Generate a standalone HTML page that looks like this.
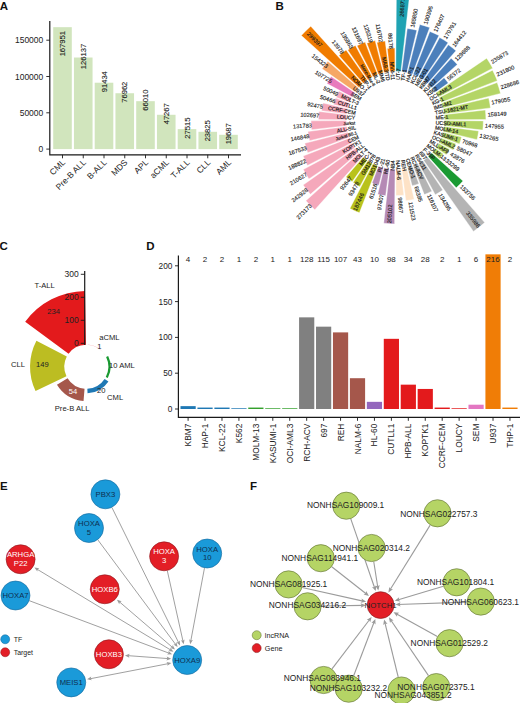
<!DOCTYPE html>
<html><head><meta charset="utf-8"><title>Figure</title>
<style>
html,body{margin:0;padding:0;background:#fff;}
svg{display:block;font-family:"Liberation Sans", sans-serif;}
</style></head><body>
<svg width="520" height="703" viewBox="0 0 520 703">
<rect width="520" height="703" fill="#fff"/>
<g id="A">
<text x="-0.3" y="9.8" font-size="11.5" font-weight="bold" fill="#111">A</text>
<rect x="53.2" y="27.17" width="18.6" height="121.93" fill="#d1e5bd"/>
<rect x="73.95" y="57.52" width="18.6" height="91.58" fill="#d1e5bd"/>
<rect x="94.7" y="82.72" width="18.6" height="66.38" fill="#d1e5bd"/>
<rect x="115.45" y="93.23" width="18.6" height="55.87" fill="#d1e5bd"/>
<rect x="136.2" y="101.18" width="18.6" height="47.92" fill="#d1e5bd"/>
<rect x="156.95" y="114.78" width="18.6" height="34.32" fill="#d1e5bd"/>
<rect x="177.7" y="129.12" width="18.6" height="19.98" fill="#d1e5bd"/>
<rect x="198.45" y="131.8" width="18.6" height="17.3" fill="#d1e5bd"/>
<rect x="219.2" y="134.81" width="18.6" height="14.29" fill="#d1e5bd"/>
<path d="M49.8 21 V154.8 H241" fill="none" stroke="#1a1a1a" stroke-width="1.2"/>
<line x1="46.3" x2="49.8" y1="149.1" y2="149.1" stroke="#1a1a1a" stroke-width="0.9"/>
<text x="43.3" y="152.1" font-size="8.5" text-anchor="end" fill="#222">0</text>
<line x1="46.3" x2="49.8" y1="112.8" y2="112.8" stroke="#1a1a1a" stroke-width="0.9"/>
<text x="43.3" y="115.8" font-size="8.5" text-anchor="end" fill="#222">50000</text>
<line x1="46.3" x2="49.8" y1="76.5" y2="76.5" stroke="#1a1a1a" stroke-width="0.9"/>
<text x="43.3" y="79.5" font-size="8.5" text-anchor="end" fill="#222">100000</text>
<line x1="46.3" x2="49.8" y1="40.2" y2="40.2" stroke="#1a1a1a" stroke-width="0.9"/>
<text x="43.3" y="43.2" font-size="8.5" text-anchor="end" fill="#222">150000</text>
<line x1="62.5" x2="62.5" y1="154.8" y2="158.3" stroke="#1a1a1a" stroke-width="0.9"/>
<text transform="translate(65.8 163) rotate(-45)" font-size="8.5" text-anchor="end" fill="#222">CML</text>
<text transform="translate(65.1 43.7) rotate(-90)" font-size="7.6" text-anchor="middle" fill="#1a1a1a" stroke="#1a1a1a" stroke-width="0.1">167951</text>
<line x1="83.25" x2="83.25" y1="154.8" y2="158.3" stroke="#1a1a1a" stroke-width="0.9"/>
<text transform="translate(86.55 163) rotate(-45)" font-size="8.5" text-anchor="end" fill="#222">Pre-B ALL</text>
<text transform="translate(85.85 56.52) rotate(-90)" font-size="7.6" text-anchor="middle" fill="#1a1a1a" stroke="#1a1a1a" stroke-width="0.1">126137</text>
<line x1="104" x2="104" y1="154.8" y2="158.3" stroke="#1a1a1a" stroke-width="0.9"/>
<text transform="translate(107.3 163) rotate(-45)" font-size="8.5" text-anchor="end" fill="#222">B-ALL</text>
<text transform="translate(106.6 81.72) rotate(-90)" font-size="7.6" text-anchor="middle" fill="#1a1a1a" stroke="#1a1a1a" stroke-width="0.1">91434</text>
<line x1="124.75" x2="124.75" y1="154.8" y2="158.3" stroke="#1a1a1a" stroke-width="0.9"/>
<text transform="translate(128.05 163) rotate(-45)" font-size="8.5" text-anchor="end" fill="#222">MDS</text>
<text transform="translate(127.35 92.23) rotate(-90)" font-size="7.6" text-anchor="middle" fill="#1a1a1a" stroke="#1a1a1a" stroke-width="0.1">76962</text>
<line x1="145.5" x2="145.5" y1="154.8" y2="158.3" stroke="#1a1a1a" stroke-width="0.9"/>
<text transform="translate(148.8 163) rotate(-45)" font-size="8.5" text-anchor="end" fill="#222">APL</text>
<text transform="translate(148.1 100.18) rotate(-90)" font-size="7.6" text-anchor="middle" fill="#1a1a1a" stroke="#1a1a1a" stroke-width="0.1">66010</text>
<line x1="166.25" x2="166.25" y1="154.8" y2="158.3" stroke="#1a1a1a" stroke-width="0.9"/>
<text transform="translate(169.55 163) rotate(-45)" font-size="8.5" text-anchor="end" fill="#222">aCML</text>
<text transform="translate(168.85 113.78) rotate(-90)" font-size="7.6" text-anchor="middle" fill="#1a1a1a" stroke="#1a1a1a" stroke-width="0.1">47267</text>
<line x1="187" x2="187" y1="154.8" y2="158.3" stroke="#1a1a1a" stroke-width="0.9"/>
<text transform="translate(190.3 163) rotate(-45)" font-size="8.5" text-anchor="end" fill="#222">T-ALL</text>
<text transform="translate(189.6 128.12) rotate(-90)" font-size="7.6" text-anchor="middle" fill="#1a1a1a" stroke="#1a1a1a" stroke-width="0.1">27515</text>
<line x1="207.75" x2="207.75" y1="154.8" y2="158.3" stroke="#1a1a1a" stroke-width="0.9"/>
<text transform="translate(211.05 163) rotate(-45)" font-size="8.5" text-anchor="end" fill="#222">CLL</text>
<text transform="translate(210.35 130.8) rotate(-90)" font-size="7.6" text-anchor="middle" fill="#1a1a1a" stroke="#1a1a1a" stroke-width="0.1">23825</text>
<line x1="228.5" x2="228.5" y1="154.8" y2="158.3" stroke="#1a1a1a" stroke-width="0.9"/>
<text transform="translate(231.8 163) rotate(-45)" font-size="8.5" text-anchor="end" fill="#222">AML</text>
<text transform="translate(231.1 133.81) rotate(-90)" font-size="7.6" text-anchor="middle" fill="#1a1a1a" stroke="#1a1a1a" stroke-width="0.1">19687</text>
</g>
<g id="B">
<text x="275.6" y="9.9" font-size="11.5" font-weight="bold" fill="#111">B</text>
<path d="M395.78 71.2 L396.38 -4 A124.2 124.2 0 0 1 409.4 -3.21 L400.92 71.51 A49 49 0 0 0 395.78 71.2Z" fill="#1fa3b3" stroke="#fff" stroke-width="0.4" stroke-linejoin="miter"/>
<path d="M401.69 71.61 L407.27 28.47 A92.49 92.49 0 0 1 416.83 30.22 L406.75 72.53 A49 49 0 0 0 401.69 71.61Z" fill="#4b7fbb" stroke="#fff" stroke-width="0.4" stroke-linejoin="miter"/>
<path d="M407.5 72.72 L419.78 24.51 A98.75 98.75 0 0 1 429.69 27.59 L412.42 74.25 A49 49 0 0 0 407.5 72.72Z" fill="#4b7fbb" stroke="#fff" stroke-width="0.4" stroke-linejoin="miter"/>
<path d="M413.13 74.52 L429.85 31.47 A95.18 95.18 0 0 1 438.97 35.57 L417.83 76.64 A49 49 0 0 0 413.13 74.52Z" fill="#4b7fbb" stroke="#fff" stroke-width="0.4" stroke-linejoin="miter"/>
<path d="M418.51 76.99 L439.62 37.53 A93.75 93.75 0 0 1 448.05 42.63 L422.92 79.66 A49 49 0 0 0 418.51 76.99Z" fill="#4b7fbb" stroke="#fff" stroke-width="0.4" stroke-linejoin="miter"/>
<path d="M423.55 80.09 L448.33 44.8 A92.13 92.13 0 0 1 455.95 50.77 L427.6 83.27 A49 49 0 0 0 423.55 80.09Z" fill="#4b7fbb" stroke="#fff" stroke-width="0.4" stroke-linejoin="miter"/>
<path d="M428.18 83.78 L451.11 58.31 A83.27 83.27 0 0 1 457.29 64.49 L431.82 87.42 A49 49 0 0 0 428.18 83.78Z" fill="#4b7fbb" stroke="#fff" stroke-width="0.4" stroke-linejoin="miter"/>
<path d="M432.33 88 L444.07 77.76 A64.57 64.57 0 0 1 448.25 83.1 L435.51 92.05 A49 49 0 0 0 432.33 88Z" fill="#4b7fbb" stroke="#fff" stroke-width="0.4" stroke-linejoin="miter"/>
<path d="M435.94 92.68 L486.7 58.23 A110.35 110.35 0 0 1 492.7 68.15 L438.61 97.09 A49 49 0 0 0 435.94 92.68Z" fill="#b4d566" stroke="#fff" stroke-width="0.4" stroke-linejoin="miter"/>
<path d="M438.96 97.77 L492.58 70.16 A109.31 109.31 0 0 1 497.3 80.64 L441.08 102.47 A49 49 0 0 0 438.96 97.77Z" fill="#b4d566" stroke="#fff" stroke-width="0.4" stroke-linejoin="miter"/>
<path d="M441.35 103.18 L497.16 82.52 A108.51 108.51 0 0 1 500.55 93.4 L442.88 108.1 A49 49 0 0 0 441.35 103.18Z" fill="#b4d566" stroke="#fff" stroke-width="0.4" stroke-linejoin="miter"/>
<path d="M443.07 108.85 L488.65 97.99 A95.86 95.86 0 0 1 490.47 107.9 L443.99 113.91 A49 49 0 0 0 443.07 108.85Z" fill="#b4d566" stroke="#fff" stroke-width="0.4" stroke-linejoin="miter"/>
<path d="M444.09 114.68 L485.35 109.99 A90.53 90.53 0 0 1 485.93 119.49 L444.4 119.82 A49 49 0 0 0 444.09 114.68Z" fill="#b4d566" stroke="#fff" stroke-width="0.4" stroke-linejoin="miter"/>
<path d="M444.4 120.58 L483.33 120.89 A87.93 87.93 0 0 1 482.77 130.11 L444.09 125.72 A49 49 0 0 0 444.4 120.58Z" fill="#b4d566" stroke="#fff" stroke-width="0.4" stroke-linejoin="miter"/>
<path d="M443.99 126.49 L478.63 130.97 A83.93 83.93 0 0 1 477.04 139.64 L443.07 131.55 A49 49 0 0 0 443.99 126.49Z" fill="#b4d566" stroke="#fff" stroke-width="0.4" stroke-linejoin="miter"/>
<path d="M442.88 132.3 L461.58 137.06 A68.3 68.3 0 0 1 459.45 143.92 L441.35 137.22 A49 49 0 0 0 442.88 132.3Z" fill="#b4d566" stroke="#fff" stroke-width="0.4" stroke-linejoin="miter"/>
<path d="M441.08 137.93 L456 143.73 A65 65 0 0 1 453.19 149.95 L438.96 142.63 A49 49 0 0 0 441.08 137.93Z" fill="#b4d566" stroke="#fff" stroke-width="0.4" stroke-linejoin="miter"/>
<path d="M438.61 143.31 L449.53 149.15 A61.39 61.39 0 0 1 446.19 154.67 L435.94 147.72 A49 49 0 0 0 438.61 143.31Z" fill="#b4d566" stroke="#fff" stroke-width="0.4" stroke-linejoin="miter"/>
<path d="M435.51 148.35 L443.44 153.92 A58.69 58.69 0 0 1 439.64 158.77 L432.33 152.4 A49 49 0 0 0 435.51 148.35Z" fill="#b4d566" stroke="#fff" stroke-width="0.4" stroke-linejoin="miter"/>
<path d="M431.82 152.98 L462.97 181.02 A90.91 90.91 0 0 1 456.22 187.77 L428.18 156.62 A49 49 0 0 0 431.82 152.98Z" fill="#1a9a32" stroke="#fff" stroke-width="0.4" stroke-linejoin="miter"/>
<path d="M427.6 157.13 L484.7 222.61 A135.88 135.88 0 0 1 473.46 231.41 L423.55 160.31 A49 49 0 0 0 427.6 157.13Z" fill="#b4b4b4" stroke="#fff" stroke-width="0.4" stroke-linejoin="miter"/>
<path d="M422.92 160.74 L442.82 190.07 A84.45 84.45 0 0 1 435.23 194.66 L418.51 163.41 A49 49 0 0 0 422.92 160.74Z" fill="#b4b4b4" stroke="#fff" stroke-width="0.4" stroke-linejoin="miter"/>
<path d="M417.83 163.76 L431.93 191.15 A79.81 79.81 0 0 1 424.29 194.6 L413.13 165.88 A49 49 0 0 0 417.83 163.76Z" fill="#b4b4b4" stroke="#fff" stroke-width="0.4" stroke-linejoin="miter"/>
<path d="M412.42 166.15 L418.89 183.63 A67.64 67.64 0 0 1 412.1 185.75 L407.5 167.68 A49 49 0 0 0 412.42 166.15Z" fill="#b4b4b4" stroke="#fff" stroke-width="0.4" stroke-linejoin="miter"/>
<path d="M406.75 167.87 L414.21 199.18 A81.19 81.19 0 0 1 405.82 200.72 L401.69 168.79 A49 49 0 0 0 406.75 167.87Z" fill="#fde2c6" stroke="#fff" stroke-width="0.4" stroke-linejoin="miter"/>
<path d="M400.92 168.89 L403.9 195.13 A75.41 75.41 0 0 1 395.99 195.61 L395.78 169.2 A49 49 0 0 0 400.92 168.89Z" fill="#fde2c6" stroke="#fff" stroke-width="0.4" stroke-linejoin="miter"/>
<path d="M395.02 169.2 L394.59 223.9 A103.7 103.7 0 0 1 383.71 223.24 L389.88 168.89 A49 49 0 0 0 395.02 169.2Z" fill="#b58ab5" stroke="#fff" stroke-width="0.4" stroke-linejoin="miter"/>
<path d="M389.11 168.79 L385.62 195.81 A76.24 76.24 0 0 1 377.74 194.36 L384.05 167.87 A49 49 0 0 0 389.11 168.79Z" fill="#b58ab5" stroke="#fff" stroke-width="0.4" stroke-linejoin="miter"/>
<path d="M383.3 167.68 L378.83 185.21 A67.09 67.09 0 0 1 372.1 183.11 L378.38 166.15 A49 49 0 0 0 383.3 167.68Z" fill="#b58ab5" stroke="#fff" stroke-width="0.4" stroke-linejoin="miter"/>
<path d="M377.67 165.88 L359.42 212.86 A99.4 99.4 0 0 1 349.9 208.57 L372.97 163.76 A49 49 0 0 0 377.67 165.88Z" fill="#b9c21c" stroke="#fff" stroke-width="0.4" stroke-linejoin="miter"/>
<path d="M372.29 163.41 L359.82 186.72 A75.44 75.44 0 0 1 353.04 182.62 L367.88 160.74 A49 49 0 0 0 372.29 163.41Z" fill="#b9c21c" stroke="#fff" stroke-width="0.4" stroke-linejoin="miter"/>
<path d="M367.25 160.31 L352.18 181.77 A75.22 75.22 0 0 1 345.96 176.9 L363.2 157.13 A49 49 0 0 0 367.25 160.31Z" fill="#b9c21c" stroke="#fff" stroke-width="0.4" stroke-linejoin="miter"/>
<path d="M362.62 156.62 L314.82 209.73 A120.46 120.46 0 0 1 305.87 200.78 L358.98 152.98 A49 49 0 0 0 362.62 156.62Z" fill="#f5a8bb" stroke="#fff" stroke-width="0.4" stroke-linejoin="miter"/>
<path d="M358.47 152.4 L310.42 194.3 A112.75 112.75 0 0 1 303.12 184.97 L355.29 148.35 A49 49 0 0 0 358.47 152.4Z" fill="#f5a8bb" stroke="#fff" stroke-width="0.4" stroke-linejoin="miter"/>
<path d="M354.86 147.72 L308.93 178.89 A104.51 104.51 0 0 1 303.25 169.49 L352.19 143.31 A49 49 0 0 0 354.86 147.72Z" fill="#f5a8bb" stroke="#fff" stroke-width="0.4" stroke-linejoin="miter"/>
<path d="M351.84 142.63 L307.43 165.49 A98.95 98.95 0 0 1 303.16 156.01 L349.72 137.93 A49 49 0 0 0 351.84 142.63Z" fill="#f5a8bb" stroke="#fff" stroke-width="0.4" stroke-linejoin="miter"/>
<path d="M349.45 137.22 L307.7 152.68 A93.52 93.52 0 0 1 304.78 143.29 L347.92 132.3 A49 49 0 0 0 349.45 137.22Z" fill="#f5a8bb" stroke="#fff" stroke-width="0.4" stroke-linejoin="miter"/>
<path d="M347.73 131.55 L309.55 140.65 A88.25 88.25 0 0 1 307.88 131.52 L346.81 126.49 A49 49 0 0 0 347.73 131.55Z" fill="#f5a8bb" stroke="#fff" stroke-width="0.4" stroke-linejoin="miter"/>
<path d="M346.71 125.72 L311.53 129.72 A84.4 84.4 0 0 1 311 120.86 L346.4 120.58 A49 49 0 0 0 346.71 125.72Z" fill="#f5a8bb" stroke="#fff" stroke-width="0.4" stroke-linejoin="miter"/>
<path d="M346.4 119.82 L318.41 119.6 A76.99 76.99 0 0 1 318.9 111.52 L346.71 114.68 A49 49 0 0 0 346.4 119.82Z" fill="#f5a8bb" stroke="#fff" stroke-width="0.4" stroke-linejoin="miter"/>
<path d="M346.81 113.91 L321.63 110.65 A74.38 74.38 0 0 1 323.04 102.97 L347.73 108.85 A49 49 0 0 0 346.81 113.91Z" fill="#f5a8bb" stroke="#fff" stroke-width="0.4" stroke-linejoin="miter"/>
<path d="M347.92 108.1 L333.7 104.48 A63.67 63.67 0 0 1 335.69 98.09 L349.45 103.18 A49 49 0 0 0 347.92 108.1Z" fill="#f5a8bb" stroke="#fff" stroke-width="0.4" stroke-linejoin="miter"/>
<path d="M349.72 102.47 L336.15 97.19 A63.56 63.56 0 0 1 338.89 91.1 L351.84 97.77 A49 49 0 0 0 349.72 102.47Z" fill="#f5a8bb" stroke="#fff" stroke-width="0.4" stroke-linejoin="miter"/>
<path d="M352.19 97.09 L326.91 83.57 A77.67 77.67 0 0 1 331.13 76.58 L354.86 92.68 A49 49 0 0 0 352.19 97.09Z" fill="#e87bbd" stroke="#fff" stroke-width="0.4" stroke-linejoin="miter"/>
<path d="M355.29 92.05 L322.1 68.75 A89.55 89.55 0 0 1 327.9 61.34 L358.47 88 A49 49 0 0 0 355.29 92.05Z" fill="#f6a766" stroke="#fff" stroke-width="0.4" stroke-linejoin="miter"/>
<path d="M358.98 87.42 L301.34 35.54 A126.55 126.55 0 0 1 310.74 26.14 L362.62 83.78 A49 49 0 0 0 358.98 87.42Z" fill="#f07c00" stroke="#fff" stroke-width="0.4" stroke-linejoin="miter"/>
<path d="M363.2 83.27 L338.98 55.5 A85.84 85.84 0 0 1 346.08 49.94 L367.25 80.09 A49 49 0 0 0 363.2 83.27Z" fill="#f07c00" stroke="#fff" stroke-width="0.4" stroke-linejoin="miter"/>
<path d="M367.88 79.66 L347.75 50 A84.85 84.85 0 0 1 355.38 45.39 L372.29 76.99 A49 49 0 0 0 367.88 79.66Z" fill="#f07c00" stroke="#fff" stroke-width="0.4" stroke-linejoin="miter"/>
<path d="M372.97 76.64 L357.05 45.71 A83.78 83.78 0 0 1 365.08 42.1 L377.67 74.52 A49 49 0 0 0 372.97 76.64Z" fill="#f07c00" stroke="#fff" stroke-width="0.4" stroke-linejoin="miter"/>
<path d="M378.38 74.25 L366.87 43.16 A82.16 82.16 0 0 1 375.11 40.59 L383.3 72.72 A49 49 0 0 0 378.38 74.25Z" fill="#f07c00" stroke="#fff" stroke-width="0.4" stroke-linejoin="miter"/>
<path d="M384.05 72.53 L376.87 42.42 A79.96 79.96 0 0 1 385.14 40.9 L389.11 71.61 A49 49 0 0 0 384.05 72.53Z" fill="#f07c00" stroke="#fff" stroke-width="0.4" stroke-linejoin="miter"/>
<path d="M389.88 71.51 L387.26 48.48 A72.18 72.18 0 0 1 394.83 48.03 L395.02 71.2 A49 49 0 0 0 389.88 71.51Z" fill="#f07c00" stroke="#fff" stroke-width="0.4" stroke-linejoin="miter"/>
<text transform="translate(397.83 79.97) rotate(-86.54)" font-size="5.3" dy="1.8" fill="#1a1a1a" stroke="#1a1a1a" stroke-width="0.18">UT-7</text>
<text transform="translate(401.65 16.89) rotate(-86.54)" font-size="5.7" dy="2" fill="#1a1a1a" stroke="#1a1a1a" stroke-width="0.12">266871</text>
<text transform="translate(402.66 80.56) rotate(-79.62)" font-size="5.3" dy="1.8" fill="#1a1a1a" stroke="#1a1a1a" stroke-width="0.18">TF-1</text>
<text transform="translate(412.4 27.45) rotate(-79.62)" font-size="5.7" dy="2" fill="#1a1a1a" stroke="#1a1a1a" stroke-width="0.12">165850</text>
<text transform="translate(407.39 81.72) rotate(-72.69)" font-size="5.3" dy="1.8" fill="#1a1a1a" stroke="#1a1a1a" stroke-width="0.18">HAP-1</text>
<text transform="translate(425.31 24.2) rotate(-72.69)" font-size="5.7" dy="2" fill="#1a1a1a" stroke="#1a1a1a" stroke-width="0.12">190395</text>
<text transform="translate(411.94 83.45) rotate(-65.77)" font-size="5.3" dy="1.8" fill="#1a1a1a" stroke="#1a1a1a" stroke-width="0.18">KCL-22</text>
<text transform="translate(435.2 31.76) rotate(-65.77)" font-size="5.7" dy="2" fill="#1a1a1a" stroke="#1a1a1a" stroke-width="0.12">176407</text>
<text transform="translate(416.25 85.71) rotate(-58.85)" font-size="5.3" dy="1.8" fill="#1a1a1a" stroke="#1a1a1a" stroke-width="0.18">MEG-01</text>
<text transform="translate(444.83 38.43) rotate(-58.85)" font-size="5.7" dy="2" fill="#1a1a1a" stroke="#1a1a1a" stroke-width="0.12">170791</text>
<text transform="translate(420.25 88.48) rotate(-51.92)" font-size="5.3" dy="1.8" fill="#1a1a1a" stroke="#1a1a1a" stroke-width="0.18">KBM7</text>
<text transform="translate(453.33 46.26) rotate(-51.92)" font-size="5.7" dy="2" fill="#1a1a1a" stroke="#1a1a1a" stroke-width="0.12">164412</text>
<text transform="translate(423.9 91.7) rotate(-45)" font-size="5.3" dy="1.8" fill="#1a1a1a" stroke="#1a1a1a" stroke-width="0.18">KU812</text>
<text transform="translate(455.55 60.05) rotate(-45)" font-size="5.7" dy="2" fill="#1a1a1a" stroke="#1a1a1a" stroke-width="0.12">129688</text>
<text transform="translate(427.12 95.35) rotate(-38.08)" font-size="5.3" dy="1.8" fill="#1a1a1a" stroke="#1a1a1a" stroke-width="0.18">K562</text>
<text transform="translate(447.65 79.27) rotate(-38.08)" font-size="5.7" dy="2" fill="#1a1a1a" stroke="#1a1a1a" stroke-width="0.12">56372</text>
<text transform="translate(429.89 99.35) rotate(-31.15)" font-size="5.3" dy="1.8" fill="#1a1a1a" stroke="#1a1a1a" stroke-width="0.18">OCI-AML3</text>
<text transform="translate(491.37 62.18) rotate(-31.15)" font-size="5.7" dy="2" fill="#1a1a1a" stroke="#1a1a1a" stroke-width="0.12">235873</text>
<text transform="translate(432.15 103.66) rotate(-24.23)" font-size="5.3" dy="1.8" fill="#1a1a1a" stroke="#1a1a1a" stroke-width="0.18">KG-1</text>
<text transform="translate(496.72 74.6) rotate(-24.23)" font-size="5.7" dy="2" fill="#1a1a1a" stroke="#1a1a1a" stroke-width="0.12">231800</text>
<text transform="translate(433.88 108.21) rotate(-17.31)" font-size="5.3" dy="1.8" fill="#1a1a1a" stroke="#1a1a1a" stroke-width="0.18">IMS-M2</text>
<text transform="translate(500.72 87.38) rotate(-17.31)" font-size="5.7" dy="2" fill="#1a1a1a" stroke="#1a1a1a" stroke-width="0.12">228686</text>
<text transform="translate(435.04 112.94) rotate(-10.38)" font-size="5.3" dy="1.8" fill="#1a1a1a" stroke="#1a1a1a" stroke-width="0.18">TSU-1621-MT</text>
<text transform="translate(491.46 102.6) rotate(-10.38)" font-size="5.7" dy="2" fill="#1a1a1a" stroke="#1a1a1a" stroke-width="0.12">179055</text>
<text transform="translate(435.63 117.77) rotate(-3.46)" font-size="5.3" dy="1.8" fill="#1a1a1a" stroke="#1a1a1a" stroke-width="0.18">ME-1</text>
<text transform="translate(487.56 114.63) rotate(-3.46)" font-size="5.7" dy="2" fill="#1a1a1a" stroke="#1a1a1a" stroke-width="0.12">158149</text>
<text transform="translate(435.63 122.63) rotate(3.46)" font-size="5.3" dy="1.8" fill="#1a1a1a" stroke="#1a1a1a" stroke-width="0.18">UCSD-AML1</text>
<text transform="translate(484.96 125.62) rotate(3.46)" font-size="5.7" dy="2" fill="#1a1a1a" stroke="#1a1a1a" stroke-width="0.12">147955</text>
<text transform="translate(435.04 127.46) rotate(10.38)" font-size="5.3" dy="1.8" fill="#1a1a1a" stroke="#1a1a1a" stroke-width="0.18">MOLM-14</text>
<text transform="translate(479.72 135.65) rotate(10.38)" font-size="5.7" dy="2" fill="#1a1a1a" stroke="#1a1a1a" stroke-width="0.12">132265</text>
<text transform="translate(433.88 132.19) rotate(17.31)" font-size="5.3" dy="1.8" fill="#1a1a1a" stroke="#1a1a1a" stroke-width="0.18">KASUMI-1</text>
<text transform="translate(462.32 141.05) rotate(17.31)" font-size="5.7" dy="2" fill="#1a1a1a" stroke="#1a1a1a" stroke-width="0.12">70968</text>
<text transform="translate(432.15 136.74) rotate(24.23)" font-size="5.3" dy="1.8" fill="#1a1a1a" stroke="#1a1a1a" stroke-width="0.18">OCI-AML2</text>
<text transform="translate(457.17 148) rotate(24.23)" font-size="5.7" dy="2" fill="#1a1a1a" stroke="#1a1a1a" stroke-width="0.12">58047</text>
<text transform="translate(429.89 141.05) rotate(31.15)" font-size="5.3" dy="1.8" fill="#1a1a1a" stroke="#1a1a1a" stroke-width="0.18">MLL-AF9</text>
<text transform="translate(450.65 153.6) rotate(31.15)" font-size="5.7" dy="2" fill="#1a1a1a" stroke="#1a1a1a" stroke-width="0.12">43876</text>
<text transform="translate(427.12 145.05) rotate(38.08)" font-size="5.3" dy="1.8" fill="#1a1a1a" stroke="#1a1a1a" stroke-width="0.18">MOLM-13</text>
<text transform="translate(446.22 160.02) rotate(38.08)" font-size="5.7" dy="2" fill="#1a1a1a" stroke="#1a1a1a" stroke-width="0.12">33299</text>
<text transform="translate(423.9 148.7) rotate(45)" font-size="5.3" dy="1.8" fill="#1a1a1a" stroke="#1a1a1a" stroke-width="0.18">F-36P</text>
<text transform="translate(460.95 185.75) rotate(45)" font-size="5.7" dy="2" fill="#1a1a1a" stroke="#1a1a1a" stroke-width="0.12">153756</text>
<text transform="translate(420.25 151.92) rotate(51.92)" font-size="5.3" dy="1.8" fill="#1a1a1a" stroke="#1a1a1a" stroke-width="0.18">697</text>
<text transform="translate(467.36 212.05) rotate(51.92)" font-size="5.7" dy="2" fill="#1a1a1a" stroke="#1a1a1a" stroke-width="0.12">335986</text>
<text transform="translate(416.25 154.69) rotate(58.85)" font-size="5.3" dy="1.8" fill="#1a1a1a" stroke="#1a1a1a" stroke-width="0.18">RS4;11</text>
<text transform="translate(440.02 194.01) rotate(58.85)" font-size="5.7" dy="2" fill="#1a1a1a" stroke="#1a1a1a" stroke-width="0.12">134295</text>
<text transform="translate(411.94 156.95) rotate(65.77)" font-size="5.3" dy="1.8" fill="#1a1a1a" stroke="#1a1a1a" stroke-width="0.18">RCH-ACV</text>
<text transform="translate(428.89 194.62) rotate(65.77)" font-size="5.7" dy="2" fill="#1a1a1a" stroke="#1a1a1a" stroke-width="0.12">116107</text>
<text transform="translate(407.39 158.68) rotate(72.69)" font-size="5.3" dy="1.8" fill="#1a1a1a" stroke="#1a1a1a" stroke-width="0.18">CEMO-1</text>
<text transform="translate(416.06 186.5) rotate(72.69)" font-size="5.7" dy="2" fill="#1a1a1a" stroke="#1a1a1a" stroke-width="0.12">68395</text>
<text transform="translate(402.66 159.84) rotate(79.62)" font-size="5.3" dy="1.8" fill="#1a1a1a" stroke="#1a1a1a" stroke-width="0.18">REH</text>
<text transform="translate(410.36 201.83) rotate(79.62)" font-size="5.7" dy="2" fill="#1a1a1a" stroke="#1a1a1a" stroke-width="0.12">121523</text>
<text transform="translate(397.83 160.43) rotate(86.54)" font-size="5.3" dy="1.8" fill="#1a1a1a" stroke="#1a1a1a" stroke-width="0.18">NALM-6</text>
<text transform="translate(400.06 197.27) rotate(86.54)" font-size="5.7" dy="2" fill="#1a1a1a" stroke="#1a1a1a" stroke-width="0.12">98867</text>
<text transform="translate(392.97 160.43) rotate(273.46)" font-size="5.3" dy="1.8" text-anchor="end" fill="#1a1a1a" stroke="#1a1a1a" stroke-width="0.18">NB4</text>
<text transform="translate(390.3 204.55) rotate(273.46)" font-size="5.7" dy="2" text-anchor="end" fill="#1a1a1a" stroke="#1a1a1a" stroke-width="0.12">205102</text>
<text transform="translate(388.14 159.84) rotate(280.38)" font-size="5.3" dy="1.8" text-anchor="end" fill="#1a1a1a" stroke="#1a1a1a" stroke-width="0.18">HL-60</text>
<text transform="translate(381.78 194.5) rotate(280.38)" font-size="5.7" dy="2" text-anchor="end" fill="#1a1a1a" stroke="#1a1a1a" stroke-width="0.12">97407</text>
<text transform="translate(383.41 158.68) rotate(287.31)" font-size="5.3" dy="1.8" text-anchor="end" fill="#1a1a1a" stroke="#1a1a1a" stroke-width="0.18">PL-21</text>
<text transform="translate(375.65 183.58) rotate(287.31)" font-size="5.7" dy="2" text-anchor="end" fill="#1a1a1a" stroke="#1a1a1a" stroke-width="0.12">61516</text>
<text transform="translate(378.86 156.95) rotate(294.23)" font-size="5.3" dy="1.8" text-anchor="end" fill="#1a1a1a" stroke="#1a1a1a" stroke-width="0.18">MO1043</text>
<text transform="translate(362.49 193.33) rotate(294.23)" font-size="5.7" dy="2" text-anchor="end" fill="#1a1a1a" stroke="#1a1a1a" stroke-width="0.12">187446</text>
<text transform="translate(374.55 154.69) rotate(301.15)" font-size="5.3" dy="1.8" text-anchor="end" fill="#1a1a1a" stroke="#1a1a1a" stroke-width="0.18">GM12878</text>
<text transform="translate(358.03 182.02) rotate(301.15)" font-size="5.7" dy="2" text-anchor="end" fill="#1a1a1a" stroke="#1a1a1a" stroke-width="0.12">93478</text>
<text transform="translate(370.55 151.92) rotate(308.08)" font-size="5.3" dy="1.8" text-anchor="end" fill="#1a1a1a" stroke="#1a1a1a" stroke-width="0.18">MEC-1</text>
<text transform="translate(350.98 176.9) rotate(308.08)" font-size="5.7" dy="2" text-anchor="end" fill="#1a1a1a" stroke="#1a1a1a" stroke-width="0.12">92647</text>
<text transform="translate(366.9 148.7) rotate(315)" font-size="5.3" dy="1.8" text-anchor="end" fill="#1a1a1a" stroke="#1a1a1a" stroke-width="0.18">MOLT-4</text>
<text transform="translate(310.72 204.88) rotate(315)" font-size="5.7" dy="2" text-anchor="end" fill="#1a1a1a" stroke="#1a1a1a" stroke-width="0.12">273173</text>
<text transform="translate(363.68 145.05) rotate(321.92)" font-size="5.3" dy="1.8" text-anchor="end" fill="#1a1a1a" stroke="#1a1a1a" stroke-width="0.18">HPB-ALL</text>
<text transform="translate(307.2 189.3) rotate(321.92)" font-size="5.7" dy="2" text-anchor="end" fill="#1a1a1a" stroke="#1a1a1a" stroke-width="0.12">242928</text>
<text transform="translate(360.91 141.05) rotate(328.85)" font-size="5.3" dy="1.8" text-anchor="end" fill="#1a1a1a" stroke="#1a1a1a" stroke-width="0.18">KOPTK1</text>
<text transform="translate(306.56 173.9) rotate(328.85)" font-size="5.7" dy="2" text-anchor="end" fill="#1a1a1a" stroke="#1a1a1a" stroke-width="0.12">210627</text>
<text transform="translate(358.65 136.74) rotate(335.77)" font-size="5.3" dy="1.8" text-anchor="end" fill="#1a1a1a" stroke="#1a1a1a" stroke-width="0.18">CEM</text>
<text transform="translate(305.81 160.52) rotate(335.77)" font-size="5.7" dy="2" text-anchor="end" fill="#1a1a1a" stroke="#1a1a1a" stroke-width="0.12">188822</text>
<text transform="translate(356.92 132.19) rotate(342.69)" font-size="4.4" dy="1.8" text-anchor="end" fill="#1a1a1a" stroke="#1a1a1a" stroke-width="0.18">Jurkat E6.1</text>
<text transform="translate(306.78 147.81) rotate(342.69)" font-size="5.7" dy="2" text-anchor="end" fill="#1a1a1a" stroke="#1a1a1a" stroke-width="0.12">167533</text>
<text transform="translate(355.76 127.46) rotate(349.62)" font-size="5.3" dy="1.8" text-anchor="end" fill="#1a1a1a" stroke="#1a1a1a" stroke-width="0.18">ALL-SIL</text>
<text transform="translate(309.29 135.98) rotate(349.62)" font-size="5.7" dy="2" text-anchor="end" fill="#1a1a1a" stroke="#1a1a1a" stroke-width="0.12">146848</text>
<text transform="translate(355.17 122.63) rotate(356.54)" font-size="4.4" dy="1.8" text-anchor="end" fill="#1a1a1a" stroke="#1a1a1a" stroke-width="0.18">Jurkat</text>
<text transform="translate(311.85 125.25) rotate(356.54)" font-size="5.7" dy="2" text-anchor="end" fill="#1a1a1a" stroke="#1a1a1a" stroke-width="0.12">131783</text>
<text transform="translate(355.17 117.77) rotate(363.46)" font-size="5.3" dy="1.8" text-anchor="end" fill="#1a1a1a" stroke="#1a1a1a" stroke-width="0.18">LOUCY</text>
<text transform="translate(319.25 115.59) rotate(363.46)" font-size="5.7" dy="2" text-anchor="end" fill="#1a1a1a" stroke="#1a1a1a" stroke-width="0.12">102697</text>
<text transform="translate(355.76 112.94) rotate(370.38)" font-size="5.3" dy="1.8" text-anchor="end" fill="#1a1a1a" stroke="#1a1a1a" stroke-width="0.18">CCRF-CEM</text>
<text transform="translate(322.93 106.92) rotate(370.38)" font-size="5.7" dy="2" text-anchor="end" fill="#1a1a1a" stroke="#1a1a1a" stroke-width="0.12">92475</text>
<text transform="translate(356.92 108.21) rotate(377.31)" font-size="5.3" dy="1.8" text-anchor="end" fill="#1a1a1a" stroke="#1a1a1a" stroke-width="0.18">CUTLL1</text>
<text transform="translate(335.28 101.47) rotate(377.31)" font-size="5.7" dy="2" text-anchor="end" fill="#1a1a1a" stroke="#1a1a1a" stroke-width="0.12">50466</text>
<text transform="translate(358.65 103.66) rotate(384.23)" font-size="5.3" dy="1.8" text-anchor="end" fill="#1a1a1a" stroke="#1a1a1a" stroke-width="0.18">MOLT-3</text>
<text transform="translate(338.08 94.4) rotate(384.23)" font-size="5.7" dy="2" text-anchor="end" fill="#1a1a1a" stroke="#1a1a1a" stroke-width="0.12">50049</text>
<text transform="translate(360.91 99.35) rotate(391.15)" font-size="5.3" dy="1.8" text-anchor="end" fill="#1a1a1a" stroke="#1a1a1a" stroke-width="0.18">SEM</text>
<text transform="translate(331.67 81.67) rotate(391.15)" font-size="5.7" dy="2" text-anchor="end" fill="#1a1a1a" stroke="#1a1a1a" stroke-width="0.12">107725</text>
<text transform="translate(363.68 95.35) rotate(398.08)" font-size="5.3" dy="1.8" text-anchor="end" fill="#1a1a1a" stroke="#1a1a1a" stroke-width="0.18">U937</text>
<text transform="translate(327.42 66.94) rotate(398.08)" font-size="5.7" dy="2" text-anchor="end" fill="#1a1a1a" stroke="#1a1a1a" stroke-width="0.12">154323</text>
<text transform="translate(366.9 91.7) rotate(405)" font-size="5.3" dy="1.8" text-anchor="end" fill="#1a1a1a" stroke="#1a1a1a" stroke-width="0.18">NOMO-1</text>
<text transform="translate(321.4 46.2) rotate(405)" font-size="5.7" dy="2" text-anchor="end" fill="#1a1a1a" stroke="#1a1a1a" stroke-width="0.12">299397</text>
<text transform="translate(370.55 88.48) rotate(411.92)" font-size="5.3" dy="1.8" text-anchor="end" fill="#1a1a1a" stroke="#1a1a1a" stroke-width="0.18">THP-1</text>
<text transform="translate(342.89 53.18) rotate(411.92)" font-size="5.7" dy="2" text-anchor="end" fill="#1a1a1a" stroke="#1a1a1a" stroke-width="0.12">13978</text>
<text transform="translate(374.55 85.71) rotate(418.85)" font-size="4.4" dy="1.8" text-anchor="end" fill="#1a1a1a" stroke="#1a1a1a" stroke-width="0.18">Mono-Mac-6</text>
<text transform="translate(351.87 48.19) rotate(418.85)" font-size="5.7" dy="2" text-anchor="end" fill="#1a1a1a" stroke="#1a1a1a" stroke-width="0.12">135863</text>
<text transform="translate(378.86 83.45) rotate(425.77)" font-size="5.3" dy="1.8" text-anchor="end" fill="#1a1a1a" stroke="#1a1a1a" stroke-width="0.18">ML-2</text>
<text transform="translate(361.3 44.44) rotate(425.77)" font-size="5.7" dy="2" text-anchor="end" fill="#1a1a1a" stroke="#1a1a1a" stroke-width="0.12">131697</text>
<text transform="translate(383.41 81.72) rotate(432.69)" font-size="5.3" dy="1.8" text-anchor="end" fill="#1a1a1a" stroke="#1a1a1a" stroke-width="0.18">MM6</text>
<text transform="translate(371.17 42.43) rotate(432.69)" font-size="5.7" dy="2" text-anchor="end" fill="#1a1a1a" stroke="#1a1a1a" stroke-width="0.12">125319</text>
<text transform="translate(388.14 80.56) rotate(439.62)" font-size="5.3" dy="1.8" text-anchor="end" fill="#1a1a1a" stroke="#1a1a1a" stroke-width="0.18">MA9.3ITD</text>
<text transform="translate(381.11 42.24) rotate(439.62)" font-size="5.7" dy="2" text-anchor="end" fill="#1a1a1a" stroke="#1a1a1a" stroke-width="0.12">116702</text>
<text transform="translate(392.97 79.97) rotate(446.54)" font-size="5.3" dy="1.8" text-anchor="end" fill="#1a1a1a" stroke="#1a1a1a" stroke-width="0.18">MV4-11</text>
<text transform="translate(391.08 48.86) rotate(446.54)" font-size="5.7" dy="2" text-anchor="end" fill="#1a1a1a" stroke="#1a1a1a" stroke-width="0.12">86178</text>
</g>
<g id="C">
<text x="-0.6" y="249.9" font-size="11.5" font-weight="bold" fill="#111">C</text>
<path d="M87.76 344.75 L87.77 344.52 A22.23 22.23 0 0 1 105.01 354.69 L104.81 354.81 A22 22 0 0 0 87.76 344.75Z" fill="#f4a0a8"/>
<path d="M106.11 357.12 L108.18 356.12 A24.3 24.3 0 0 1 107.82 378 L105.78 376.93 A22 22 0 0 0 106.11 357.12Z" fill="#1a9a32"/>
<path d="M104.6 378.91 L108.43 381.46 A26.6 26.6 0 0 1 87.55 393.27 L87.34 388.68 A22 22 0 0 0 104.6 378.91Z" fill="#1f78b4"/>
<path d="M84.54 388.63 L83.54 401.01 A34.42 34.42 0 0 1 56.98 384.74 L67.56 378.23 A22 22 0 0 0 84.54 388.63Z" fill="#a5574b"/>
<path d="M66.46 376.21 L35.55 391.01 A56.27 56.27 0 0 1 36.43 340.63 L66.8 356.51 A22 22 0 0 0 66.46 376.21Z" fill="#bcbd22"/>
<path d="M68.57 353.68 L25.19 321.81 A75.82 75.82 0 0 1 84.98 290.89 L85.92 344.7 A22 22 0 0 0 68.57 353.68Z" fill="#e31a1c"/>
<line x1="84.7" x2="84.7" y1="271" y2="345" stroke="#1a1a1a" stroke-width="1.2"/>
<line x1="80.8" x2="84.7" y1="343.3" y2="343.3" stroke="#1a1a1a" stroke-width="0.9"/>
<text x="78.7" y="346.3" font-size="8.5" text-anchor="end" fill="#222">0</text>
<line x1="80.8" x2="84.7" y1="320.3" y2="320.3" stroke="#1a1a1a" stroke-width="0.9"/>
<text x="78.7" y="323.3" font-size="8.5" text-anchor="end" fill="#222">100</text>
<line x1="80.8" x2="84.7" y1="297.3" y2="297.3" stroke="#1a1a1a" stroke-width="0.9"/>
<text x="78.7" y="300.3" font-size="8.5" text-anchor="end" fill="#222">200</text>
<line x1="80.8" x2="84.7" y1="274.3" y2="274.3" stroke="#1a1a1a" stroke-width="0.9"/>
<text x="78.7" y="277.3" font-size="8.5" text-anchor="end" fill="#222">300</text>
<text x="34.5" y="287.8" font-size="7.6" text-anchor="start" fill="#222">T-ALL</text>
<text x="47.2" y="313.8" font-size="7.6" text-anchor="start" fill="#222">234</text>
<text x="11" y="367.2" font-size="7.6" text-anchor="start" fill="#222">CLL</text>
<text x="36" y="367.2" font-size="7.6" text-anchor="start" fill="#222">149</text>
<text x="68.7" y="394.4" font-size="7.6" text-anchor="start" fill="#fff">54</text>
<text x="54.8" y="411" font-size="7.6" text-anchor="start" fill="#222">Pre-B ALL</text>
<text x="99.3" y="340.4" font-size="7.6" text-anchor="start" fill="#222">aCML</text>
<text x="97.2" y="349" font-size="7.6" text-anchor="start" fill="#222">1</text>
<text x="109.0" y="368.4" font-size="7.6" text-anchor="start" fill="#222">10 AML</text>
<text x="97" y="392.6" font-size="7.6" text-anchor="start" fill="#222">20</text>
<text x="107.1" y="400" font-size="7.6" text-anchor="start" fill="#222">CML</text>
</g>
<g id="D">
<text x="146.2" y="249.9" font-size="11.5" font-weight="bold" fill="#111">D</text>
<rect x="180.5" y="406.14" width="15.2" height="2.86" fill="#1f78b4"/>
<rect x="197.44" y="407.57" width="15.2" height="1.43" fill="#1f78b4"/>
<rect x="214.38" y="407.57" width="15.2" height="1.43" fill="#1f78b4"/>
<rect x="231.32" y="408.28" width="15.2" height="0.72" fill="#1f78b4"/>
<rect x="248.26" y="407.57" width="15.2" height="1.43" fill="#33a02c"/>
<rect x="265.2" y="408.28" width="15.2" height="0.72" fill="#33a02c"/>
<rect x="282.14" y="408.28" width="15.2" height="0.72" fill="#33a02c"/>
<rect x="299.08" y="317.35" width="15.2" height="91.65" fill="#808080"/>
<rect x="316.02" y="326.66" width="15.2" height="82.34" fill="#808080"/>
<rect x="332.96" y="332.39" width="15.2" height="76.61" fill="#a5574b"/>
<rect x="349.9" y="378.21" width="15.2" height="30.79" fill="#a5574b"/>
<rect x="366.84" y="401.84" width="15.2" height="7.16" fill="#9467bd"/>
<rect x="383.78" y="338.83" width="15.2" height="70.17" fill="#e31a1c"/>
<rect x="400.72" y="384.66" width="15.2" height="24.34" fill="#e31a1c"/>
<rect x="417.66" y="388.95" width="15.2" height="20.05" fill="#e31a1c"/>
<rect x="434.6" y="407.57" width="15.2" height="1.43" fill="#e31a1c"/>
<rect x="451.54" y="408.28" width="15.2" height="0.72" fill="#e31a1c"/>
<rect x="468.48" y="404.7" width="15.2" height="4.3" fill="#e377c2"/>
<rect x="485.42" y="254.34" width="15.2" height="154.66" fill="#f07d06"/>
<rect x="502.36" y="407.57" width="15.2" height="1.43" fill="#f07d06"/>
<path d="M178.4 255.6 V417.4 H520" fill="none" stroke="#1a1a1a" stroke-width="1.2"/>
<line x1="175" x2="178.4" y1="409" y2="409" stroke="#1a1a1a" stroke-width="0.9"/>
<text x="172.4" y="412" font-size="8.3" text-anchor="end" fill="#222">0</text>
<line x1="175" x2="178.4" y1="373.2" y2="373.2" stroke="#1a1a1a" stroke-width="0.9"/>
<text x="172.4" y="376.2" font-size="8.3" text-anchor="end" fill="#222">50</text>
<line x1="175" x2="178.4" y1="337.4" y2="337.4" stroke="#1a1a1a" stroke-width="0.9"/>
<text x="172.4" y="340.4" font-size="8.3" text-anchor="end" fill="#222">100</text>
<line x1="175" x2="178.4" y1="301.6" y2="301.6" stroke="#1a1a1a" stroke-width="0.9"/>
<text x="172.4" y="304.6" font-size="8.3" text-anchor="end" fill="#222">150</text>
<line x1="175" x2="178.4" y1="265.8" y2="265.8" stroke="#1a1a1a" stroke-width="0.9"/>
<text x="172.4" y="268.8" font-size="8.3" text-anchor="end" fill="#222">200</text>
<line x1="188.1" x2="188.1" y1="417.4" y2="420.8" stroke="#1a1a1a" stroke-width="0.9"/>
<text transform="translate(191.1 423.6) rotate(-90)" font-size="8.4" text-anchor="end" fill="#222">KBM7</text>
<text x="188.1" y="262.3" font-size="8" text-anchor="middle" fill="#222">4</text>
<line x1="205.04" x2="205.04" y1="417.4" y2="420.8" stroke="#1a1a1a" stroke-width="0.9"/>
<text transform="translate(208.04 423.6) rotate(-90)" font-size="8.4" text-anchor="end" fill="#222">HAP-1</text>
<text x="205.04" y="262.3" font-size="8" text-anchor="middle" fill="#222">2</text>
<line x1="221.98" x2="221.98" y1="417.4" y2="420.8" stroke="#1a1a1a" stroke-width="0.9"/>
<text transform="translate(224.98 423.6) rotate(-90)" font-size="8.4" text-anchor="end" fill="#222">KCL-22</text>
<text x="221.98" y="262.3" font-size="8" text-anchor="middle" fill="#222">2</text>
<line x1="238.92" x2="238.92" y1="417.4" y2="420.8" stroke="#1a1a1a" stroke-width="0.9"/>
<text transform="translate(241.92 423.6) rotate(-90)" font-size="8.4" text-anchor="end" fill="#222">K562</text>
<text x="238.92" y="262.3" font-size="8" text-anchor="middle" fill="#222">1</text>
<line x1="255.86" x2="255.86" y1="417.4" y2="420.8" stroke="#1a1a1a" stroke-width="0.9"/>
<text transform="translate(258.86 423.6) rotate(-90)" font-size="8.4" text-anchor="end" fill="#222">MOLM-13</text>
<text x="255.86" y="262.3" font-size="8" text-anchor="middle" fill="#222">2</text>
<line x1="272.8" x2="272.8" y1="417.4" y2="420.8" stroke="#1a1a1a" stroke-width="0.9"/>
<text transform="translate(275.8 423.6) rotate(-90)" font-size="8.4" text-anchor="end" fill="#222">KASUMI-1</text>
<text x="272.8" y="262.3" font-size="8" text-anchor="middle" fill="#222">1</text>
<line x1="289.74" x2="289.74" y1="417.4" y2="420.8" stroke="#1a1a1a" stroke-width="0.9"/>
<text transform="translate(292.74 423.6) rotate(-90)" font-size="8.4" text-anchor="end" fill="#222">OCI-AML3</text>
<text x="289.74" y="262.3" font-size="8" text-anchor="middle" fill="#222">1</text>
<line x1="306.68" x2="306.68" y1="417.4" y2="420.8" stroke="#1a1a1a" stroke-width="0.9"/>
<text transform="translate(309.68 423.6) rotate(-90)" font-size="8.4" text-anchor="end" fill="#222">RCH-ACV</text>
<text x="306.68" y="262.3" font-size="8" text-anchor="middle" fill="#222">128</text>
<line x1="323.62" x2="323.62" y1="417.4" y2="420.8" stroke="#1a1a1a" stroke-width="0.9"/>
<text transform="translate(326.62 423.6) rotate(-90)" font-size="8.4" text-anchor="end" fill="#222">697</text>
<text x="323.62" y="262.3" font-size="8" text-anchor="middle" fill="#222">115</text>
<line x1="340.56" x2="340.56" y1="417.4" y2="420.8" stroke="#1a1a1a" stroke-width="0.9"/>
<text transform="translate(343.56 423.6) rotate(-90)" font-size="8.4" text-anchor="end" fill="#222">REH</text>
<text x="340.56" y="262.3" font-size="8" text-anchor="middle" fill="#222">107</text>
<line x1="357.5" x2="357.5" y1="417.4" y2="420.8" stroke="#1a1a1a" stroke-width="0.9"/>
<text transform="translate(360.5 423.6) rotate(-90)" font-size="8.4" text-anchor="end" fill="#222">NALM-6</text>
<text x="357.5" y="262.3" font-size="8" text-anchor="middle" fill="#222">43</text>
<line x1="374.44" x2="374.44" y1="417.4" y2="420.8" stroke="#1a1a1a" stroke-width="0.9"/>
<text transform="translate(377.44 423.6) rotate(-90)" font-size="8.4" text-anchor="end" fill="#222">HL-60</text>
<text x="374.44" y="262.3" font-size="8" text-anchor="middle" fill="#222">10</text>
<line x1="391.38" x2="391.38" y1="417.4" y2="420.8" stroke="#1a1a1a" stroke-width="0.9"/>
<text transform="translate(394.38 423.6) rotate(-90)" font-size="8.4" text-anchor="end" fill="#222">CUTLL1</text>
<text x="391.38" y="262.3" font-size="8" text-anchor="middle" fill="#222">98</text>
<line x1="408.32" x2="408.32" y1="417.4" y2="420.8" stroke="#1a1a1a" stroke-width="0.9"/>
<text transform="translate(411.32 423.6) rotate(-90)" font-size="8.4" text-anchor="end" fill="#222">HPB-ALL</text>
<text x="408.32" y="262.3" font-size="8" text-anchor="middle" fill="#222">34</text>
<line x1="425.26" x2="425.26" y1="417.4" y2="420.8" stroke="#1a1a1a" stroke-width="0.9"/>
<text transform="translate(428.26 423.6) rotate(-90)" font-size="8.4" text-anchor="end" fill="#222">KOPTK1</text>
<text x="425.26" y="262.3" font-size="8" text-anchor="middle" fill="#222">28</text>
<line x1="442.2" x2="442.2" y1="417.4" y2="420.8" stroke="#1a1a1a" stroke-width="0.9"/>
<text transform="translate(445.2 423.6) rotate(-90)" font-size="8.4" text-anchor="end" fill="#222">CCRF-CEM</text>
<text x="442.2" y="262.3" font-size="8" text-anchor="middle" fill="#222">2</text>
<line x1="459.14" x2="459.14" y1="417.4" y2="420.8" stroke="#1a1a1a" stroke-width="0.9"/>
<text transform="translate(462.14 423.6) rotate(-90)" font-size="8.4" text-anchor="end" fill="#222">LOUCY</text>
<text x="459.14" y="262.3" font-size="8" text-anchor="middle" fill="#222">1</text>
<line x1="476.08" x2="476.08" y1="417.4" y2="420.8" stroke="#1a1a1a" stroke-width="0.9"/>
<text transform="translate(479.08 423.6) rotate(-90)" font-size="8.4" text-anchor="end" fill="#222">SEM</text>
<text x="476.08" y="262.3" font-size="8" text-anchor="middle" fill="#222">6</text>
<line x1="493.02" x2="493.02" y1="417.4" y2="420.8" stroke="#1a1a1a" stroke-width="0.9"/>
<text transform="translate(496.02 423.6) rotate(-90)" font-size="8.4" text-anchor="end" fill="#222">U937</text>
<text x="493.02" y="262.3" font-size="8" text-anchor="middle" fill="#222">216</text>
<line x1="509.96" x2="509.96" y1="417.4" y2="420.8" stroke="#1a1a1a" stroke-width="0.9"/>
<text transform="translate(512.96 423.6) rotate(-90)" font-size="8.4" text-anchor="end" fill="#222">THP-1</text>
<text x="509.96" y="262.3" font-size="8" text-anchor="middle" fill="#222">2</text>
</g>
<g id="E">
<text x="0" y="490" font-size="11.5" font-weight="bold" fill="#111">E</text>
<line x1="111.95" y1="507.57" x2="179.19" y2="643.77" stroke="#9b9b9b" stroke-width="0.95"/>
<path d="M180.07 645.56 L176.33 642.28 L178.44 642.26 L179.74 640.6Z" fill="#9b9b9b"/>
<line x1="97.83" y1="539.87" x2="176.4" y2="645.48" stroke="#9b9b9b" stroke-width="0.95"/>
<path d="M177.59 647.08 L173.32 644.53 L175.39 644.13 L176.37 642.26Z" fill="#9b9b9b"/>
<line x1="167.32" y1="570.75" x2="183.26" y2="642.33" stroke="#9b9b9b" stroke-width="0.95"/>
<path d="M183.7 644.29 L180.84 640.21 L182.9 640.69 L184.55 639.38Z" fill="#9b9b9b"/>
<line x1="204.47" y1="568.05" x2="190.54" y2="642.21" stroke="#9b9b9b" stroke-width="0.95"/>
<path d="M190.17 644.18 L189.15 639.3 L190.85 640.56 L192.89 640.01Z" fill="#9b9b9b"/>
<line x1="29.35" y1="600.7" x2="170.26" y2="653.63" stroke="#9b9b9b" stroke-width="0.95"/>
<path d="M172.13 654.34 L167.15 654.5 L168.68 653.04 L168.49 650.94Z" fill="#9b9b9b"/>
<line x1="36.09" y1="568.62" x2="171.71" y2="650.63" stroke="#9b9b9b" stroke-width="0.95"/>
<path d="M173.42 651.67 L168.5 650.91 L170.27 649.76 L170.47 647.66Z" fill="#9b9b9b"/>
<path d="M34.38 567.58 L39.3 568.34 L37.53 569.49 L37.33 571.59Z" fill="#9b9b9b"/>
<line x1="118.49" y1="601.04" x2="173.46" y2="648.21" stroke="#9b9b9b" stroke-width="0.95"/>
<path d="M174.98 649.52 L170.25 647.96 L172.19 647.12 L172.73 645.08Z" fill="#9b9b9b"/>
<path d="M116.97 599.73 L121.7 601.29 L119.76 602.13 L119.22 604.17Z" fill="#9b9b9b"/>
<line x1="126.95" y1="655.58" x2="169.15" y2="658.67" stroke="#9b9b9b" stroke-width="0.95"/>
<path d="M171.14 658.82 L166.42 660.38 L167.47 658.55 L166.69 656.59Z" fill="#9b9b9b"/>
<path d="M124.96 655.43 L129.68 653.87 L128.63 655.7 L129.41 657.66Z" fill="#9b9b9b"/>
<line x1="89.02" y1="678.97" x2="169.43" y2="663.43" stroke="#9b9b9b" stroke-width="0.95"/>
<path d="M171.39 663.05 L167.24 665.79 L167.78 663.75 L166.52 662.06Z" fill="#9b9b9b"/>
<path d="M87.06 679.35 L91.21 676.61 L90.67 678.65 L91.93 680.34Z" fill="#9b9b9b"/>
<circle cx="105.4" cy="494.3" r="14.5" fill="#1a9ad9" stroke="#14679a" stroke-width="0.6"/>
<text x="105.4" y="497.1" font-size="7.7" text-anchor="middle" fill="#0f2f4f">PBX3</text>
<circle cx="89" cy="528" r="14.5" fill="#1a9ad9" stroke="#14679a" stroke-width="0.6"/>
<text x="89" y="526.1" font-size="7.7" text-anchor="middle" fill="#0f2f4f">HOXA</text>
<text x="89" y="534.7" font-size="7.7" text-anchor="middle" fill="#0f2f4f">5</text>
<circle cx="20.6" cy="559.25" r="14.5" fill="#e31e26" stroke="#8c1a1f" stroke-width="0.6"/>
<text x="20.6" y="557.35" font-size="7.7" text-anchor="middle" fill="#fff">ARHGA</text>
<text x="20.6" y="565.95" font-size="7.7" text-anchor="middle" fill="#fff">P22</text>
<circle cx="164.1" cy="556.3" r="14.5" fill="#e31e26" stroke="#8c1a1f" stroke-width="0.6"/>
<text x="164.1" y="554.4" font-size="7.7" text-anchor="middle" fill="#fff">HOXA</text>
<text x="164.1" y="563" font-size="7.7" text-anchor="middle" fill="#fff">3</text>
<circle cx="207.2" cy="553.5" r="14.5" fill="#1a9ad9" stroke="#14679a" stroke-width="0.6"/>
<text x="207.2" y="551.6" font-size="7.7" text-anchor="middle" fill="#0f2f4f">HOXA</text>
<text x="207.2" y="560.2" font-size="7.7" text-anchor="middle" fill="#0f2f4f">10</text>
<circle cx="104.75" cy="589.25" r="14.5" fill="#e31e26" stroke="#8c1a1f" stroke-width="0.6"/>
<text x="104.75" y="592.05" font-size="7.7" text-anchor="middle" fill="#fff">HOXB6</text>
<circle cx="15.5" cy="595.5" r="14.5" fill="#1a9ad9" stroke="#14679a" stroke-width="0.6"/>
<text x="15.5" y="598.3" font-size="7.7" text-anchor="middle" fill="#0f2f4f">HOXA7</text>
<circle cx="108.9" cy="654.25" r="14.5" fill="#e31e26" stroke="#8c1a1f" stroke-width="0.6"/>
<text x="108.9" y="657.05" font-size="7.7" text-anchor="middle" fill="#fff">HOXB3</text>
<circle cx="187.2" cy="660" r="14.5" fill="#1a9ad9" stroke="#14679a" stroke-width="0.6"/>
<text x="187.2" y="662.8" font-size="7.7" text-anchor="middle" fill="#0f2f4f">HOXA9</text>
<circle cx="71.25" cy="682.4" r="14.5" fill="#1a9ad9" stroke="#14679a" stroke-width="0.6"/>
<text x="71.25" y="685.2" font-size="7.7" text-anchor="middle" fill="#0f2f4f">MEIS1</text>
<circle cx="5.2" cy="639.25" r="4.5" fill="#1a9ad9" stroke="#14679a" stroke-width="0.5"/>
<circle cx="5.2" cy="652.25" r="4.5" fill="#e31e26" stroke="#8c1a1f" stroke-width="0.5"/>
<text x="13.8" y="641.8" font-size="6.9" fill="#222">TF</text>
<text x="13.8" y="654.8" font-size="6.9" fill="#222">Target</text>
</g>
<g id="F">
<text x="250" y="490" font-size="11.5" font-weight="bold" fill="#111">F</text>
<line x1="350.79" y1="518.84" x2="375.11" y2="589.22" stroke="#9b9b9b" stroke-width="1.1"/>
<path d="M375.77 591.11 L371.99 586.92 L374.41 587.18 L376.15 585.48Z" fill="#9b9b9b"/>
<line x1="430.18" y1="525.11" x2="389.45" y2="590.82" stroke="#9b9b9b" stroke-width="1.1"/>
<path d="M388.4 592.52 L389.27 586.94 L390.59 588.98 L393.01 589.26Z" fill="#9b9b9b"/>
<line x1="373.76" y1="561.73" x2="377.98" y2="588.5" stroke="#9b9b9b" stroke-width="1.1"/>
<path d="M378.3 590.48 L375.31 585.69 L377.65 586.37 L379.66 585Z" fill="#9b9b9b"/>
<line x1="331.74" y1="566.78" x2="367.38" y2="594.73" stroke="#9b9b9b" stroke-width="1.1"/>
<path d="M368.95 595.97 L363.51 594.49 L365.68 593.4 L366.22 591.03Z" fill="#9b9b9b"/>
<line x1="302.16" y1="587.45" x2="364.21" y2="601.41" stroke="#9b9b9b" stroke-width="1.1"/>
<path d="M366.16 601.85 L360.6 602.86 L362.1 600.94 L361.57 598.56Z" fill="#9b9b9b"/>
<line x1="321.5" y1="606.07" x2="363.8" y2="605.38" stroke="#9b9b9b" stroke-width="1.1"/>
<path d="M365.8 605.34 L360.64 607.63 L361.64 605.41 L360.57 603.23Z" fill="#9b9b9b"/>
<line x1="443.38" y1="586.29" x2="396.69" y2="600.28" stroke="#9b9b9b" stroke-width="1.1"/>
<path d="M394.78 600.85 L399.13 597.25 L398.76 599.66 L400.39 601.47Z" fill="#9b9b9b"/>
<line x1="466.91" y1="602.09" x2="397.39" y2="604.51" stroke="#9b9b9b" stroke-width="1.1"/>
<path d="M395.39 604.58 L400.51 602.2 L399.55 604.44 L400.66 606.6Z" fill="#9b9b9b"/>
<line x1="437.34" y1="636.47" x2="395.3" y2="613.23" stroke="#9b9b9b" stroke-width="1.1"/>
<path d="M393.55 612.26 L399.17 612.85 L397.19 614.28 L397.04 616.7Z" fill="#9b9b9b"/>
<line x1="332.02" y1="668.94" x2="370.43" y2="618.47" stroke="#9b9b9b" stroke-width="1.1"/>
<path d="M371.64 616.88 L370.24 622.35 L369.12 620.19 L366.74 619.68Z" fill="#9b9b9b"/>
<line x1="353.66" y1="675.71" x2="374.61" y2="620.8" stroke="#9b9b9b" stroke-width="1.1"/>
<path d="M375.32 618.93 L375.53 624.57 L373.84 622.81 L371.41 623Z" fill="#9b9b9b"/>
<line x1="398.2" y1="677" x2="384.59" y2="621.42" stroke="#9b9b9b" stroke-width="1.1"/>
<path d="M384.12 619.48 L387.49 624 L385.11 623.52 L383.22 625.05Z" fill="#9b9b9b"/>
<line x1="428.49" y1="675.6" x2="390.04" y2="619" stroke="#9b9b9b" stroke-width="1.1"/>
<path d="M388.92 617.34 L393.66 620.41 L391.25 620.78 L390.02 622.88Z" fill="#9b9b9b"/>
<circle cx="346.25" cy="505.7" r="13.6" fill="#b5d465" stroke="#5a6b2e" stroke-width="0.6"/>
<circle cx="437.5" cy="513.3" r="13.6" fill="#b5d465" stroke="#5a6b2e" stroke-width="0.6"/>
<circle cx="371.6" cy="548" r="13.6" fill="#b5d465" stroke="#5a6b2e" stroke-width="0.6"/>
<circle cx="320.8" cy="558.2" r="13.6" fill="#b5d465" stroke="#5a6b2e" stroke-width="0.6"/>
<circle cx="288.6" cy="584.4" r="13.6" fill="#b5d465" stroke="#5a6b2e" stroke-width="0.6"/>
<circle cx="307.6" cy="606.3" r="13.6" fill="#b5d465" stroke="#5a6b2e" stroke-width="0.6"/>
<circle cx="456.7" cy="582.3" r="13.6" fill="#b5d465" stroke="#5a6b2e" stroke-width="0.6"/>
<circle cx="480.8" cy="601.6" r="13.6" fill="#b5d465" stroke="#5a6b2e" stroke-width="0.6"/>
<circle cx="449.5" cy="643.2" r="13.6" fill="#b5d465" stroke="#5a6b2e" stroke-width="0.6"/>
<circle cx="323.6" cy="680" r="13.6" fill="#b5d465" stroke="#5a6b2e" stroke-width="0.6"/>
<circle cx="348.7" cy="688.7" r="13.6" fill="#b5d465" stroke="#5a6b2e" stroke-width="0.6"/>
<circle cx="401.5" cy="690.5" r="13.6" fill="#b5d465" stroke="#5a6b2e" stroke-width="0.6"/>
<circle cx="436.3" cy="687.1" r="13.6" fill="#b5d465" stroke="#5a6b2e" stroke-width="0.6"/>
<circle cx="380.6" cy="605.1" r="13.4" fill="#e31e26" stroke="#7a1a1a" stroke-width="0.6"/>
<text x="380.6" y="607.9" font-size="7.8" text-anchor="middle" fill="#222">NOTCH1</text>
<text x="307" y="507.6" font-size="8.4" fill="#222">NONHSAG109009.1</text>
<text x="400.2" y="516.5" font-size="8.4" fill="#222">NONHSAG022757.3</text>
<text x="332.7" y="550.9" font-size="8.4" fill="#222">NONHSAG020314.2</text>
<text x="281.5" y="560.9" font-size="8.4" fill="#222">NONHSAG114941.1</text>
<text x="250" y="586.7" font-size="8.4" fill="#222">NONHSAG081925.1</text>
<text x="268.8" y="608.4" font-size="8.4" fill="#222">NONHSAG034216.2</text>
<text x="416.9" y="584.9" font-size="8.4" fill="#222">NONHSAG101804.1</text>
<text x="441.7" y="604.6" font-size="8.4" fill="#222">NONHSAG060623.1</text>
<text x="410.6" y="645.6" font-size="8.4" fill="#222">NONHSAG012529.2</text>
<text x="283.7" y="681.1" font-size="8.4" fill="#222">NONHSAG083946.1</text>
<text x="309.8" y="690.6" font-size="8.4" fill="#222">NONHSAG103232.2</text>
<text x="374.4" y="698.1" font-size="8.4" fill="#222">NONHSAG043851.2</text>
<text x="397.3" y="689.5" font-size="8.4" fill="#222">NONHSAG072375.1</text>
<circle cx="256.7" cy="635.2" r="4.5" fill="#b5d465" stroke="#5a6b2e" stroke-width="0.5"/>
<circle cx="256.7" cy="648.1" r="4.5" fill="#e31e26" stroke="#7a1a1a" stroke-width="0.5"/>
<text x="264.8" y="637.8" font-size="7.2" fill="#222">lncRNA</text>
<text x="264.8" y="650.7" font-size="7.2" fill="#222">Gene</text>
</g>
</svg>
</body></html>
